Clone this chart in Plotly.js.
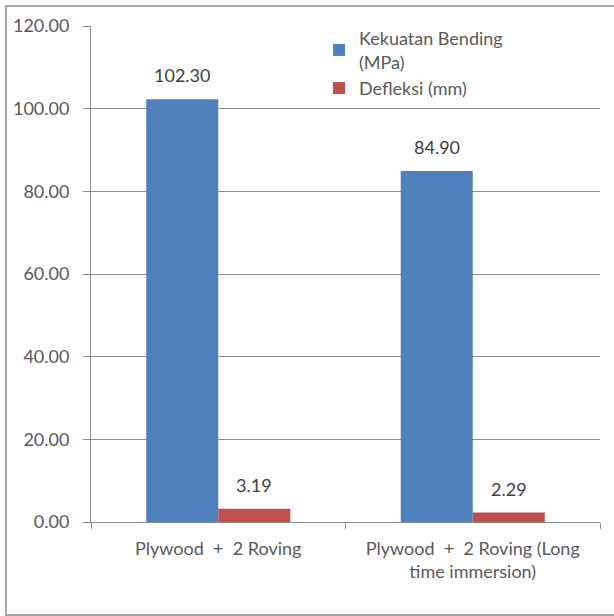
<!DOCTYPE html>
<html>
<head>
<meta charset="utf-8">
<script src="https://cdn.plot.ly/plotly-3.0.1.min.js"></script>
<style>
  html, body { margin: 0; padding: 0; background: #ffffff; }
  #wrap { position: relative; width: 614px; height: 616px; }
  #chart { position: absolute; left: 0; top: 0; width: 614px; height: 616px; }
  #frame {
    position: absolute; left: 5px; top: 5px; width: 620px; height: 607px;
    border-top: 2px solid #a6a6a6; border-left: 2px solid #a6a6a6; border-bottom: 2px solid #a6a6a6;
    pointer-events: none;
  }
</style>
</head>
<body>
<div id="wrap">
  <div id="chart"></div>
  <div id="frame"></div>
</div>
<script>
// Specimen groups
const categories = [
  'Plywood\u00a0\u00a0+\u00a0\u00a02 Roving',
  'Plywood\u00a0\u00a0+\u00a0\u00a02 Roving (Long<br>time immersion)'
];

// Series values
const bendingStrength = [102.30, 84.90];   // Kekuatan Bending (MPa)
const deflection = [3.19, 2.29];           // Defleksi (mm)

const seriesNames = ['Kekuatan Bending<br>(MPa)', 'Defleksi (mm)'];
const seriesColors = ['#4f81bd', '#c0504d'];

// Y axis ticks
const yTicks = [0, 20, 40, 60, 80, 100, 120];

const FONT = 'Lato, "Open Sans", sans-serif';
const TEXT_COLOR = '#595959';
const BAR_GAP = 0.434;

const traces = [
  { type: 'bar', name: seriesNames[0], x: categories, y: bendingStrength,
    marker: { color: seriesColors[0] }, hoverinfo: 'none' },
  { type: 'bar', name: seriesNames[1], x: categories, y: deflection,
    marker: { color: seriesColors[1] }, hoverinfo: 'none' }
];

// Value labels placed above each bar, centred over it
const barWidth = (1 - BAR_GAP) / 2;
const annotations = [];
[bendingStrength, deflection].forEach((vals, s) => {
  vals.forEach((v, i) => {
    annotations.push({
      x: i + (s === 0 ? -barWidth / 2 : barWidth / 2),
      y: v, xref: 'x', yref: 'y',
      text: v.toFixed(2),
      showarrow: false,
      yanchor: 'middle', yshift: 24,
      font: { family: FONT, size: 18, color: '#404040' }
    });
  });
});

const layout = {
  width: 614, height: 616,
  margin: { l: 91, r: 14, t: 26, b: 94 },
  paper_bgcolor: 'rgba(0,0,0,0)',
  plot_bgcolor: '#ffffff',
  barmode: 'group',
  bargap: BAR_GAP,
  bargroupgap: 0,
  showlegend: true,
  legend: {
    x: 0.448, y: 1.012, xanchor: 'left', yanchor: 'top',
    bgcolor: 'rgba(255,255,255,0)',
    font: { family: FONT, size: 18, color: TEXT_COLOR },
    itemwidth: 30,
    tracegroupgap: 0,
    traceorder: 'normal'
  },
  xaxis: {
    type: 'category',
    showgrid: false,
    showline: true, linecolor: '#8c8c8c', linewidth: 1,
    ticks: 'outside', tickson: 'boundaries', ticklen: 6, tickcolor: '#8c8c8c',
    ticklabelstandoff: 10,
    tickfont: { family: FONT, size: 18, color: TEXT_COLOR },
    fixedrange: true
  },
  yaxis: {
    range: [0, 120],
    tickvals: yTicks,
    ticktext: yTicks.map(t => t.toFixed(2)),
    showgrid: true, gridcolor: '#8c8c8c', gridwidth: 1,
    showline: true, linecolor: '#8c8c8c', linewidth: 1,
    ticks: 'outside', ticklen: 7, tickcolor: '#8c8c8c',
    ticklabelstandoff: 10,
    zeroline: false,
    tickfont: { family: FONT, size: 18, color: TEXT_COLOR },
    fixedrange: true
  },
  annotations: annotations
};

Plotly.newPlot('chart', traces, layout, { displayModeBar: false, staticPlot: true });
</script>
</body>
</html>
